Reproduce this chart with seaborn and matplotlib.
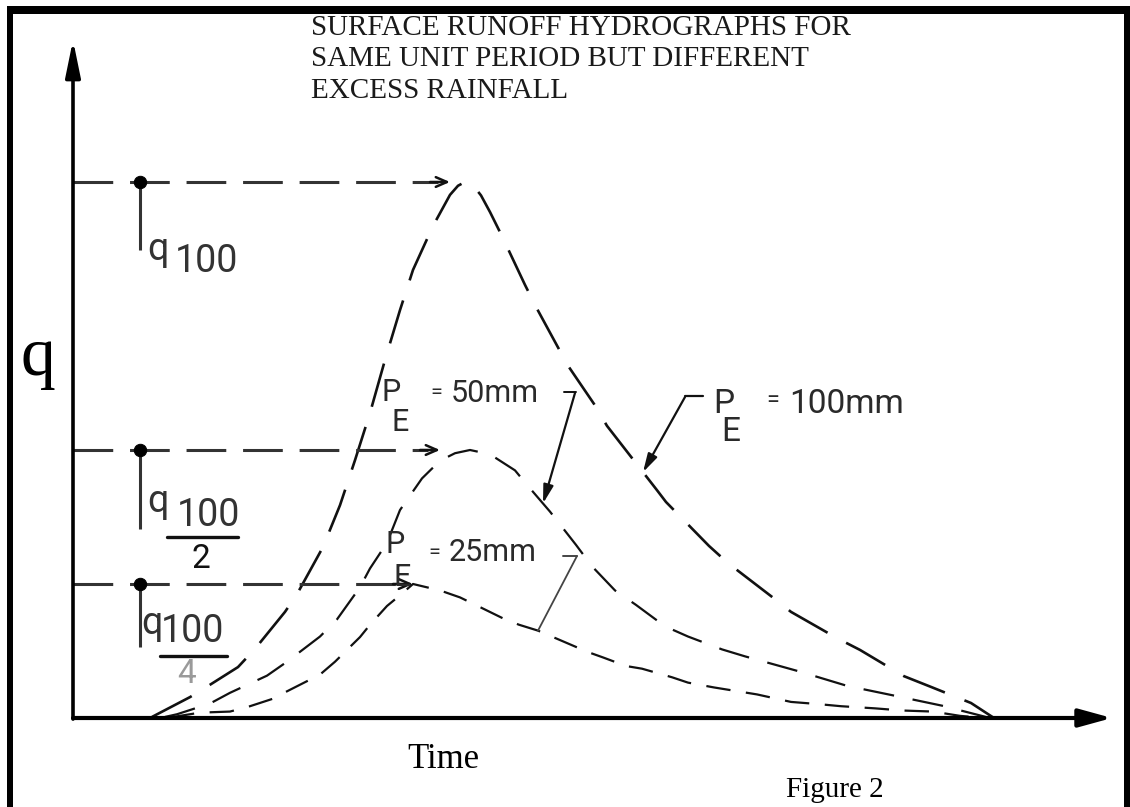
import numpy as np
import pandas as pd
import matplotlib
matplotlib.use("Agg")
import matplotlib.pyplot as plt
from matplotlib.patches import Rectangle
import seaborn as sns

# ---------------------------------------------------------------------------
# Surface runoff hydrographs (time in unit periods, q relative to q100 = 100)
# ---------------------------------------------------------------------------
series_names = ["100mm", "50mm", "25mm"]

time_100 = [0.79, 1.17, 1.37, 1.65, 1.82, 2.12, 2.24, 2.50, 2.67, 2.82,
            2.97, 3.12, 3.27, 3.40, 3.60, 3.77, 3.85, 3.92, 4.00, 4.08,
            4.17, 4.29, 4.52, 4.63, 4.86, 4.94, 5.21, 5.34, 5.84, 5.93,
            6.36, 6.55, 6.99, 7.18, 7.64, 7.87, 8.31, 8.58, 8.98, 9.21]
q_100 = [0.2, 3.9, 6.2, 9.5, 12.9, 19.8, 23.1, 31.9, 39.7, 48.1,
         56.9, 66.8, 76.1, 83.6, 91.8, 97.6, 99.3, 100.0, 99.4, 97.5,
         94.4, 89.9, 80.8, 76.7, 68.8, 66.0, 58.6, 54.5, 42.5, 40.3,
         32.1, 28.9, 22.6, 19.8, 14.9, 12.7, 7.8, 5.8, 2.8, 0.0]

time_50 = [0.92, 1.04, 1.37, 1.57, 1.94, 2.14, 2.47, 2.64, 2.87, 2.97,
           3.14, 3.27, 3.49, 3.67, 3.82, 3.97, 4.17, 4.42, 4.54, 4.77,
           5.03, 5.19, 5.42, 5.63, 5.92, 6.15, 6.49, 6.72, 7.26, 7.74,
           8.18, 8.69, 9.17]
q_50 = [0.2, 0.7, 2.7, 4.7, 7.9, 10.5, 15.2, 18.4, 24.4, 27.9,
        32.7, 38.8, 44.7, 48.0, 49.4, 50.0, 49.2, 46.2, 43.5, 38.5,
        32.3, 28.3, 23.8, 21.1, 17.1, 15.2, 12.8, 11.5, 8.7, 6.0,
        4.3, 2.3, 0.0]

time_25 = [0.97, 1.27, 1.57, 1.77, 2.00, 2.10, 2.47, 2.62, 2.87, 2.97,
           3.14, 3.27, 3.40, 3.67, 3.87, 4.08, 4.31, 4.46, 4.65, 5.15,
           5.30, 5.53, 5.69, 5.99, 6.15, 6.41, 6.84, 7.18, 7.45, 7.68,
           8.02, 8.29, 8.60, 8.87, 9.12]
q_25 = [0.1, 1.0, 1.2, 2.2, 3.6, 4.6, 8.1, 10.5, 15.1, 17.4,
        20.9, 22.9, 25.0, 23.8, 22.5, 20.6, 18.5, 17.4, 16.3, 12.3,
        11.3, 9.7, 9.2, 7.6, 6.6, 5.7, 4.4, 3.0, 2.6, 2.2,
        1.8, 1.4, 1.2, 0.4, 0.0]

# peak discharge levels marked on the q axis
level_values = [100, 50, 25]
level_denoms = [None, "2", "4"]

title_lines = ["SURFACE RUNOFF HYDROGRAPHS FOR",
               "SAME UNIT PERIOD BUT DIFFERENT",
               "EXCESS RAINFALL"]
x_label = "Time"
y_label = "q"
figure_caption = "Figure 2"

# ---------------------------------------------------------------------------
W, H = 1130, 807
X0, Y0, SX, SY = 73.0, 718.0, 100.0, 5.36   # pixel frame of the diagram


def P(x, y):
    """pixel position on the sheet -> data coordinates"""
    return ((x - X0) / SX, (Y0 - y) / SY)


sns.set_style("white")
plt.rcParams["font.family"] = ["DejaVu Sans"]

fig = plt.figure(figsize=(W / 100, H / 100), dpi=100)
ax = fig.add_axes([0, 0, 1, 1])
ax.set_xlim(P(0, 0)[0], P(W, 0)[0])
ax.set_ylim(P(0, H)[1], P(0, 0)[1])
ax.set_axis_off()

INK = "#111111"
GREY = "#333333"

# hydrograph curves
frames = []
for name, t, q in zip(series_names, [time_100, time_50, time_25],
                      [q_100, q_50, q_25]):
    frames.append(pd.DataFrame({"time": t, "q": q, "series": name}))
df = pd.concat(frames, ignore_index=True)

sns.lineplot(data=df, x="time", y="q", hue="series", style="series",
             size="series", palette={n: INK for n in series_names},
             dashes={"100mm": (17, 8), "50mm": (14, 8.5), "25mm": (11, 7)},
             sizes={"100mm": 1.9, "50mm": 1.6, "25mm": 1.6},
             sort=False, estimator=None, legend=False, ax=ax)

# axes with arrow heads
x_end = P(1112, 0)[0]
y_top = P(0, 40)[1]
ax.annotate("", xy=(x_end, 0), xytext=(0, 0),
            arrowprops=dict(arrowstyle="-|>,head_length=2.0,head_width=0.55",
                            lw=3.0, color="black", shrinkA=0, shrinkB=0))
ax.annotate("", xy=(0, y_top), xytext=(0, -0.2),
            arrowprops=dict(arrowstyle="-|>,head_length=2.2,head_width=0.45",
                            lw=2.6, color="black", shrinkA=0, shrinkB=0))

# peak level guides, dots and q labels
dot_t = P(140, 0)[0]
curves = [(time_100, q_100), (time_50, q_50), (time_25, q_25)]
label_layout = [
    # vline, q pos, 100 pos, bar (x0, x1, dy), denominator pos
    dict(vline=68, q=(18, 68), num=(66, 80), bar=None, den=None),
    dict(vline=79, q=(18, 51), num=(68, 66), bar=(27, 98, 87), den=(61, 109)),
    dict(vline=63, q=(12, 39), num=(53, 48), bar=(20, 87, 72), den=(47, 90)),
]
label_font = dict(family=["Liberation Sans Narrow", "Roboto", "DejaVu Sans"],
                  color=GREY)


def rel(level, dx, dy):
    return (dot_t + dx / SX, level - dy / SY)


for level, denom, (t, q), lay in zip(level_values, level_denoms, curves,
                                     label_layout):
    t = np.asarray(t)
    q = np.asarray(q)
    t_hit = t[np.argmax(q >= 0.96 * q.max())]
    sns.lineplot(x=[0, t_hit - 0.12], y=[level, level], color=GREY,
                 linewidth=2.2, linestyle=(0, (13, 5.5)), ax=ax)
    ax.annotate("", xy=(t_hit, level), xytext=(t_hit - 0.2, level),
                arrowprops=dict(arrowstyle="->,head_length=0.8,head_width=0.35",
                                lw=1.8, color=INK, shrinkA=0, shrinkB=0))
    ax.plot([dot_t, dot_t], [level, rel(level, 0, lay["vline"])[1]],
            color=GREY, lw=2.2, solid_capstyle="butt")
    ax.text(*rel(level, *lay["q"]), "q", ha="center", va="center",
            fontsize=27, **label_font)
    ax.text(*rel(level, *lay["num"]), "100", ha="center", va="center",
            fontsize=27, **label_font)
    if lay["bar"] is not None:
        bx0, bx1, bdy = lay["bar"]
        ax.plot([rel(level, bx0, 0)[0], rel(level, bx1, 0)[0]],
                [rel(level, 0, bdy)[1]] * 2, color=INK, lw=2.4)
        ax.text(*rel(level, *lay["den"]), denom, ha="center", va="center",
                fontsize=24, color=INK if denom == "2" else "#9a9a9a",
                family=label_font["family"])

sns.scatterplot(x=[dot_t] * len(level_values), y=level_values, s=80,
                color="black", edgecolor="black", zorder=5, ax=ax)

# rainfall labels with leaders to their curves
pe_font = dict(family=["Roboto", "DejaVu Sans"], weight="normal",
               color="#2a2a2a")


def pe_label(p_xy, e_xy, eq_xy, val_xy, value, size):
    ax.text(*P(*p_xy), "P", ha="left", va="baseline", fontsize=size, **pe_font)
    ax.text(*P(*e_xy), "E", ha="left", va="baseline", fontsize=size, **pe_font)
    ax.text(*P(*eq_xy), "=", ha="left", va="baseline", fontsize=size * 0.7,
            **pe_font)
    ax.text(*P(*val_xy), value, ha="left", va="baseline", fontsize=size,
            **pe_font)


pe_label((713, 413), (721, 441), (766, 407), (789, 413), "100mm", 24)
pe_label((381, 401), (391, 431), (430, 398), (451, 402), "50mm", 22)
pe_label((385, 553), (394, 586), (428, 558), (449, 561), "25mm", 22)

head = "-|>,head_length=1.1,head_width=0.3"
t_tip = P(643, 0)[0]
ax.plot(*zip(P(703, 396), P(685, 396)), color=INK, lw=1.6)
ax.annotate("", xy=(t_tip, np.interp(t_tip, time_100, q_100)),
            xytext=P(685, 397),
            arrowprops=dict(arrowstyle=head, lw=1.6, color=INK,
                            shrinkA=0, shrinkB=0))
t_tip = P(543, 0)[0]
ax.plot(*zip(P(564, 392), P(576, 392)), color=INK, lw=1.4)
ax.annotate("", xy=(t_tip, np.interp(t_tip, time_50, q_50)),
            xytext=P(575, 393),
            arrowprops=dict(arrowstyle=head, lw=1.6, color=INK,
                            shrinkA=0, shrinkB=0))
t_tip = P(538, 0)[0]
ax.plot(*zip(P(563, 556), P(577, 556)), color="#444444", lw=1.4)
ax.annotate("", xy=(t_tip, np.interp(t_tip, time_25, q_25)),
            xytext=P(577, 556),
            arrowprops=dict(arrowstyle="-", lw=1.3, color="#444444",
                            shrinkA=0, shrinkB=0))

# titles and axis captions
serif = ["Liberation Serif", "DejaVu Serif"]
for line, base in zip(title_lines, [35, 66, 98]):
    ax.text(*P(311, base), line, ha="left", va="baseline", fontsize=21,
            family=serif, color="#1a1a1a")
ax.text(*P(21, 375), y_label, ha="left", va="baseline", fontsize=50,
        family=serif, color="black")
ax.text(*P(407, 768), x_label, ha="left", va="baseline", fontsize=25,
        family=serif, color="black")
ax.text(*P(786, 797), figure_caption, ha="left", va="baseline", fontsize=21,
        family=serif, color="black")

# sheet frame (left, top and right edges)
frame_kw = dict(transform=fig.transFigure, facecolor="black",
                edgecolor="none", zorder=10)
fig.add_artist(Rectangle((7 / W, 0), 6 / W, (H - 6) / H, **frame_kw))
fig.add_artist(Rectangle((7 / W, (H - 14) / H), (W - 7) / W, 8 / H, **frame_kw))
fig.add_artist(Rectangle((1124 / W, 0), 6 / W, (H - 6) / H, **frame_kw))

fig.savefig("out.png", dpi=100)
